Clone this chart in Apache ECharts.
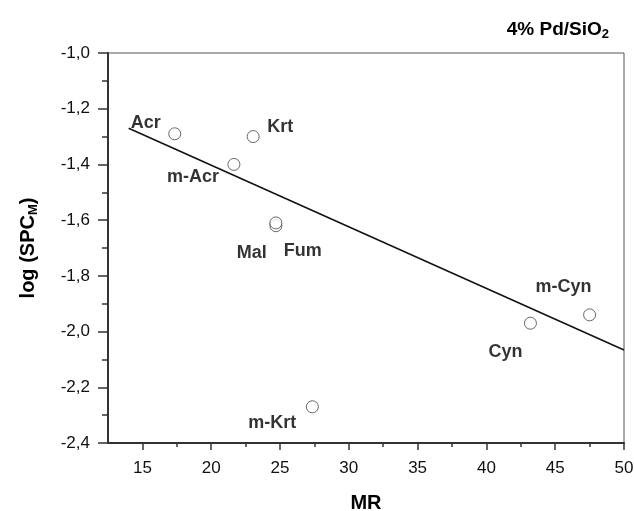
<!DOCTYPE html>
<html>
<head>
<meta charset="utf-8">
<script src="https://cdn.jsdelivr.net/npm/echarts@6/dist/echarts.min.js"></script>
<style>
  html, body { margin: 0; padding: 0; background: #fff; }
  #main { width: 634px; height: 511px; }
</style>
</head>
<body>
<div id="main"></div>
<script>
// data
var names = ['Acr', 'Krt', 'm-Acr', 'Mal', 'Fum', 'm-Krt', 'Cyn', 'm-Cyn'];
var mrValues = [17.35, 23.05, 21.65, 24.7, 24.7, 27.35, 43.2, 47.5];
var logSpc = [-1.29, -1.30, -1.40, -1.62, -1.61, -2.27, -1.97, -1.94];
// fitted line end points
var fitX = [14, 50];
var fitY = [-1.27, -2.066];
// x ticks (axis starts at 12.5)
var xTicks = [15, 20, 25, 30, 35, 40, 45, 50];
var xMinorTicks = [17.5, 22.5, 27.5, 32.5, 37.5, 42.5, 47.5];

// label offsets (px) for each point name
var labelOffsets = {
    'Acr': [-29, -11],
    'Krt': [27, -10],
    'm-Acr': [-41, 13],
    'Mal': [-24, 27],
    'Fum': [27, 28],
    'm-Krt': [-40, 16],
    'Cyn': [-25, 29],
    'm-Cyn': [-26, -28]
};

var myChart = echarts.init(document.getElementById('main'));

var pts = names.map(function (n, i) {
    return {
        name: n,
        value: [mrValues[i], logSpc[i]],
        label: { offset: labelOffsets[n] }
    };
});

var comma = function (v) { return v.toFixed(1).replace('.', ','); };
var font = 'Liberation Sans';

option = {
    backgroundColor: '#fff',
    animation: false,
    textStyle: { fontFamily: font },
    title: {
        text: '{a|4% Pd/SiO}{s|2}',
        right: 20,
        top: 13,
        textStyle: {
            rich: {
                a: { fontSize: 19, fontWeight: 'bold', color: '#000', fontFamily: font },
                s: { fontSize: 13, fontWeight: 'bold', color: '#000', fontFamily: font, verticalAlign: 'bottom', padding: [10, 0, 0, 0] }
            }
        }
    },
    grid: {
        left: 108,
        top: 53,
        right: 10,
        bottom: 68,
        outerBoundsMode: 'none',
        containLabel: false,
        show: true,
        borderColor: '#555',
        borderWidth: 1
    },
    xAxis: [
        {
            type: 'value',
            min: 12.5,
            max: 50,
            name: 'MR',
            nameLocation: 'middle',
            nameGap: 50,
            nameTextStyle: { fontSize: 20, fontWeight: 'bold', color: '#000' },
            axisLine: { onZero: false, lineStyle: { color: '#333', width: 2 } },
            axisTick: { inside: false, length: 7, customValues: xTicks, lineStyle: { color: '#333', width: 1.5 } },
            splitLine: { show: false },
            axisLabel: { fontSize: 17, color: '#111', margin: 17, customValues: xTicks }
        },
        {
            // minor ticks only
            type: 'value',
            position: 'bottom',
            min: 12.5,
            max: 50,
            axisLine: { show: false },
            axisTick: { inside: false, length: 4, customValues: xMinorTicks, lineStyle: { color: '#333', width: 1.5 } },
            splitLine: { show: false },
            axisLabel: { show: false }
        }
    ],
    yAxis: {
        type: 'value',
        min: -2.4,
        max: -1.0,
        interval: 0.2,
        name: '{a|log (SPC}{s|M}{a|)}',
        nameLocation: 'middle',
        nameRotate: 90,
        nameGap: 68,
        nameTextStyle: {
            rich: {
                a: { fontSize: 20, fontWeight: 'bold', color: '#000', fontFamily: font },
                s: { fontSize: 13, fontWeight: 'bold', color: '#000', fontFamily: font, verticalAlign: 'bottom', padding: [11, 0, 0, 0] }
            }
        },
        axisLine: { onZero: false, lineStyle: { color: '#333', width: 2 } },
        axisTick: { inside: false, length: 10, lineStyle: { color: '#333', width: 1.5 } },
        minorTick: { show: true, splitNumber: 2, length: 6, lineStyle: { color: '#333', width: 1.5 } },
        splitLine: { show: false },
        axisLabel: { fontSize: 17, color: '#111', margin: 18, formatter: comma }
    },
    series: [
        {
            name: 'fit',
            type: 'line',
            data: fitX.map(function (x, i) { return [x, fitY[i]]; }),
            symbol: 'none',
            lineStyle: { color: '#111', width: 1.5 },
            z: 2
        },
        {
            name: 'points',
            type: 'scatter',
            data: pts,
            symbol: 'circle',
            symbolSize: 12,
            itemStyle: { color: '#fff', borderColor: '#444', borderWidth: 1 },
            label: {
                show: true,
                position: 'inside',
                formatter: '{b}',
                fontSize: 18,
                fontWeight: 'bold',
                color: '#000'
            },
            z: 3
        }
    ]
};
myChart.setOption(option);
</script>
</body>
</html>
